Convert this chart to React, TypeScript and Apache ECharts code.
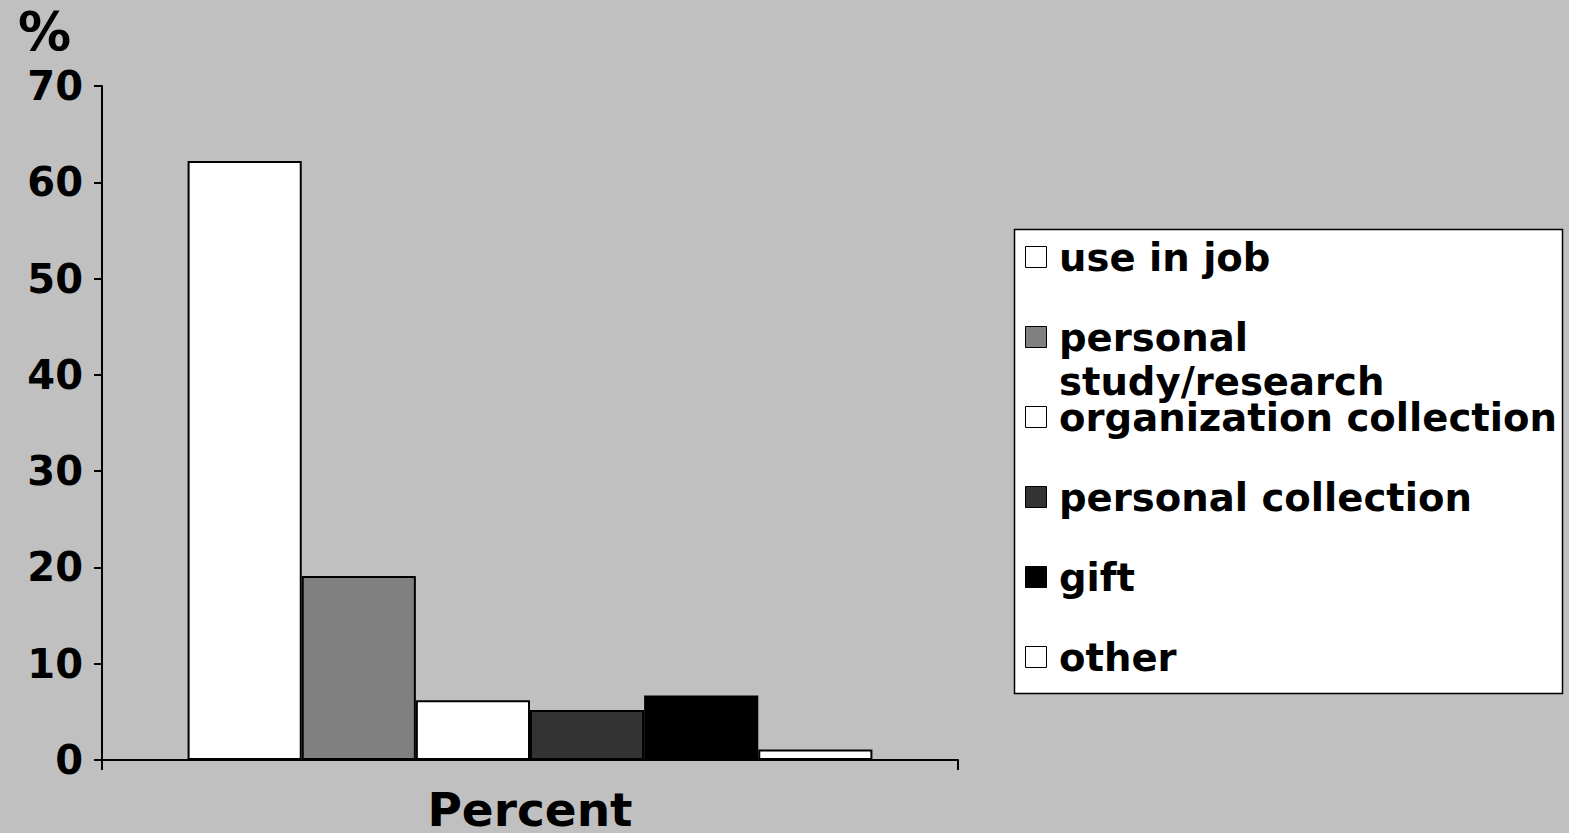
import React, { useEffect, useRef } from "react";
import * as echarts from "echarts";

const categories = ["Percent"];
const seriesNames = [
  "use in job",
  "personal\nstudy/research",
  "organization collection",
  "personal collection",
  "gift",
  "other",
];
const seriesValues = [62.2, 19.1, 6.2, 5.2, 6.7, 1.1];
const seriesColors = ["#ffffff", "#808080", "#ffffff", "#333333", "#000000", "#ffffff"];
const yTicks = { min: 0, max: 70, interval: 10 };

const FONT = "'DejaVu Sans', Verdana, sans-serif";

export default function App() {
  const ref = useRef<HTMLDivElement>(null);
  useEffect(() => {
    if (!ref.current) return;
    const chart = echarts.init(ref.current, null, { renderer: "svg" });
    const legendTop = 257;
    const legendStep = 80;
    const legendGraphics: any[] = [
      {
        type: "rect",
        shape: { x: 1014.5, y: 229.5, width: 548, height: 464 },
        style: { fill: "#ffffff", stroke: "#000000", lineWidth: 1.5 },
        z: 10,
      },
    ];
    seriesNames.forEach((name, i) => {
      const cy = legendTop + i * legendStep;
      legendGraphics.push({
        type: "rect",
        shape: { x: 1025.5, y: cy - 10.5, width: 21, height: 21 },
        style: { fill: seriesColors[i], stroke: "#000000", lineWidth: 1 },
        z: 11,
      });
      legendGraphics.push({
        type: "text",
        x: 1059,
        y: cy - 22,
        style: {
          text: name,
          font: `bold 38.6px ${FONT}`,
          fill: "#000000",
          textAlign: "left",
          textVerticalAlign: "top",
          lineHeight: 44,
        },
        z: 11,
      });
    });

    chart.setOption({
      animation: false,
      backgroundColor: "#c0c0c0",
      textStyle: { fontFamily: FONT },
      title: {
        text: "%",
        left: 13,
        top: 0,
        textStyle: { fontFamily: FONT, fontSize: 53, fontWeight: "bold", color: "#000" },
      },
      grid: { left: 102, right: 611, top: 86, bottom: 65, containLabel: false },
      xAxis: {
        type: "category",
        data: categories,
        boundaryGap: true,
        axisLine: { lineStyle: { color: "#000", width: 2 } },
        axisTick: { show: true, length: 10, lineStyle: { color: "#000", width: 2 } },
        axisLabel: {
          margin: 26,
          fontSize: 47,
          fontWeight: "bold",
          color: "#000",
          fontFamily: FONT,
        },
        splitLine: { show: false },
      },
      yAxis: {
        type: "value",
        min: yTicks.min,
        max: yTicks.max,
        interval: yTicks.interval,
        axisLine: { show: true, lineStyle: { color: "#000", width: 2 } },
        axisTick: { show: true, length: 8, lineStyle: { color: "#000", width: 2 } },
        axisLabel: {
          margin: 19,
          fontSize: 40,
          fontWeight: "bold",
          color: "#000",
          fontFamily: FONT,
        },
        splitLine: { show: false },
      },
      series: seriesNames.map((name, i) => ({
        type: "bar",
        name,
        data: [seriesValues[i]],
        barGap: "0%",
        barCategoryGap: "20%",
        itemStyle: { color: seriesColors[i], borderColor: "#000", borderWidth: 2 },
      })),
      graphic: legendGraphics,
    });
    return () => chart.dispose();
  }, []);
  return (
    <div
      ref={ref}
      style={{ position: "fixed", left: 0, top: 0, width: 1569, height: 833 }}
    />
  );
}
